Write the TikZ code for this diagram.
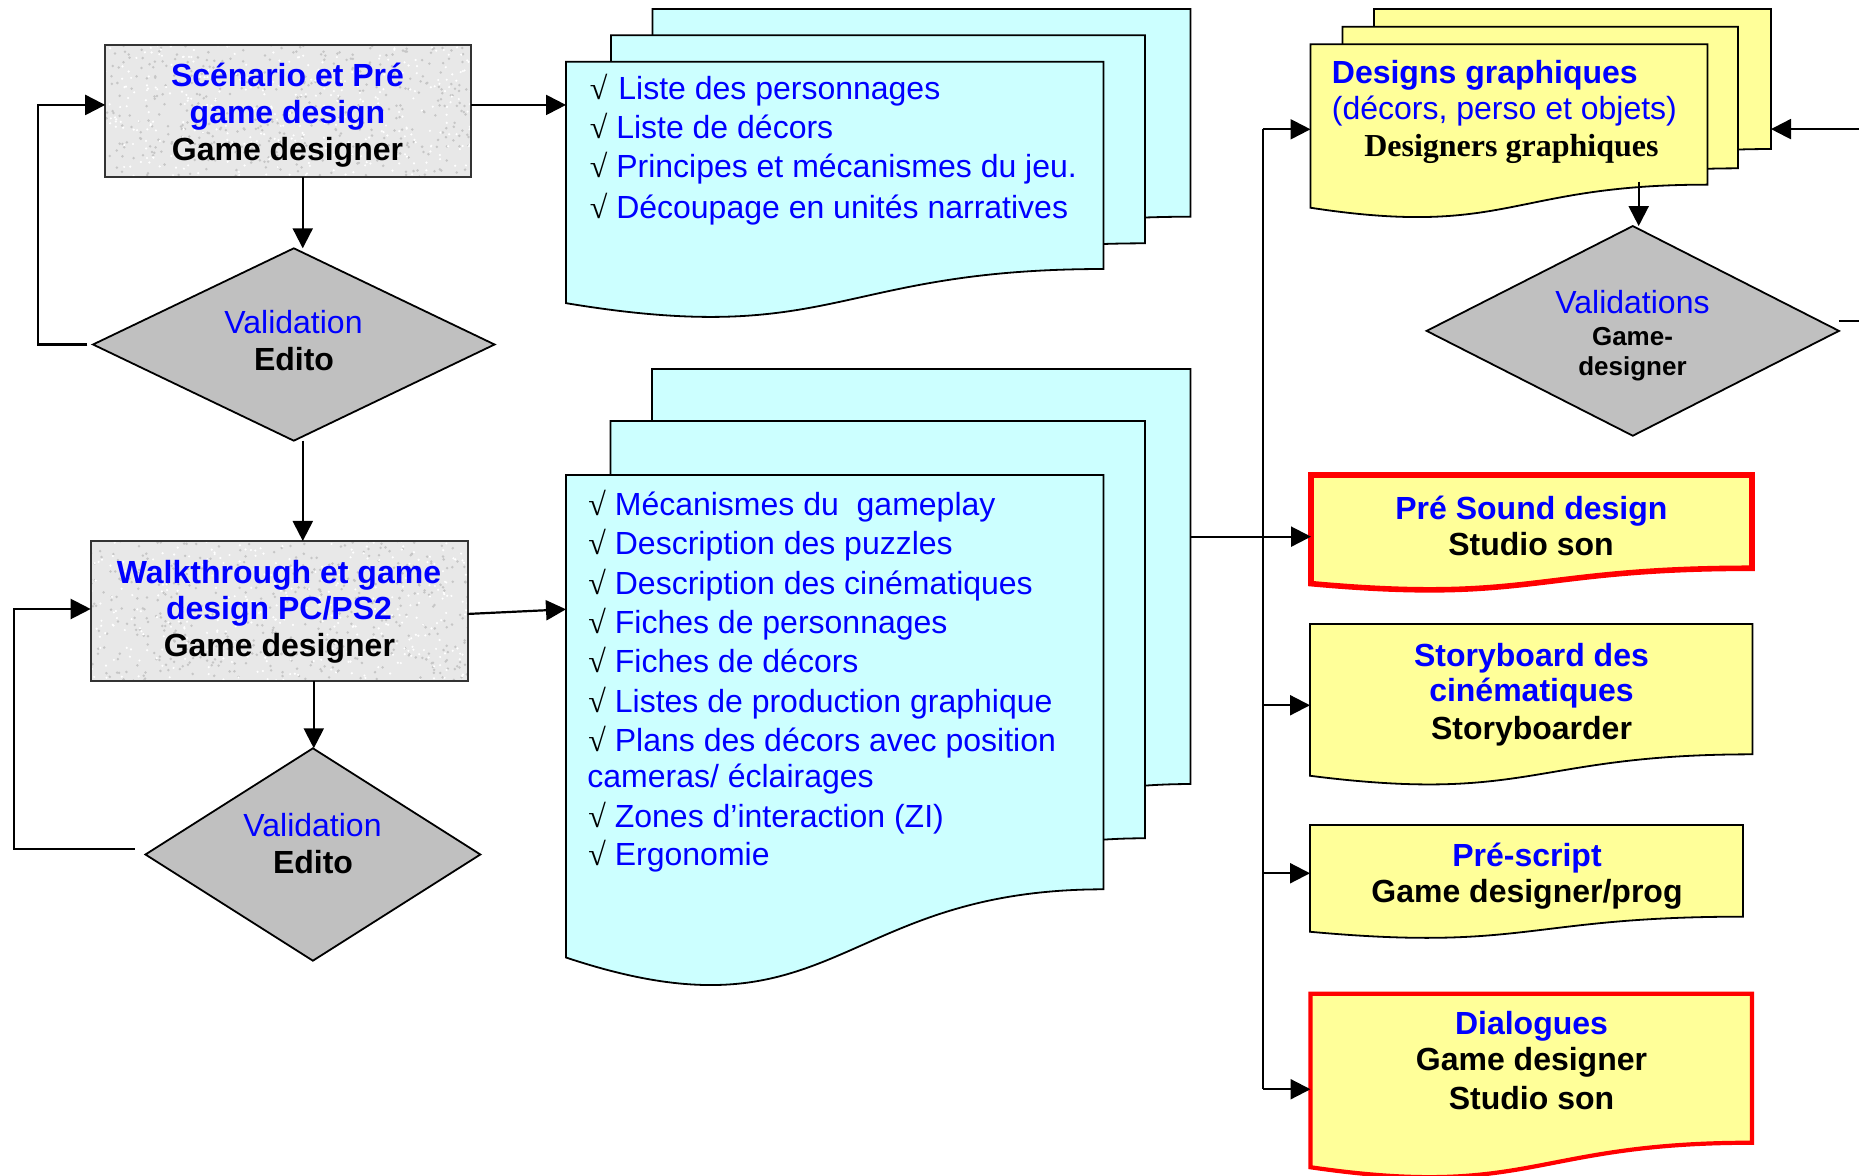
\documentclass[tikz,border=0pt]{standalone}
\usepackage{fontspec}
\setmainfont{Liberation Sans}
\newfontfamily\tms{Liberation Serif}
\usetikzlibrary{shapes.geometric,arrows.meta,calc}
\definecolor{docblue}{HTML}{CCFFFF}
\definecolor{docyel}{HTML}{FFFF99}
\definecolor{diagray}{HTML}{C0C0C0}
\definecolor{txtblue}{HTML}{0000FF}
\definecolor{boxgray}{HTML}{E8E8E8}
\definecolor{speckdark}{HTML}{C6C6C6}
\newcommand\fs{\fontsize{16}{19}\selectfont}
\newcommand\fss{\fontsize{13}{15}\selectfont}
\newcommand\sq{{\tms\color{black}√}}
\newcommand\docpage[6]{%
  \node[pagebox, minimum width=#4*0.5pt, minimum height=#5*0.5pt] (#1) at (#2,#3) {};
  \path[#6] (#1.north west) -- (#1.north east)
    -- ($(#1.north east)!0.802!(#1.south east)$)
    .. controls ($(#1.north)!0.802!(#1.south)$) and ($(#1.north)!1.1075!(#1.south)$)
    .. ($(#1.north west)!0.934!(#1.south west)$) -- cycle;}
\newcommand\speckle[4]{%
  \begin{scope}
    \clip (#1.north west) rectangle (#1.south east);
    \pgfmathsetseed{#2}
    \foreach \k in {1,...,450}{\fill[speckdark] ($(#1.center)+(#3*rand,#4*rand)$) circle[radius=0.7pt];}
    \foreach \k in {1,...,350}{\fill[white] ($(#1.center)+(#3*rand,#4*rand)$) circle[radius=0.6pt];}
  \end{scope}}
\tikzset{
  pagebox/.style={inner sep=0pt, outer sep=0pt, anchor=north west},
  cyandoc/.style={fill=docblue, draw=black, line width=0.9pt},
  yeldoc/.style={fill=docyel, draw=black, line width=0.9pt},
  reddoc/.style={fill=docyel, draw=red, line width=2.8pt},
  gbox/.style={inner sep=0pt, outer sep=0pt, anchor=north west, fill=boxgray},
  dia/.style={diamond, inner sep=0pt, outer sep=0pt, fill=diagray, draw=black, line width=0.9pt},
  arr/.style={draw=black, line width=1.1pt, -{Triangle[length=10pt,width=10pt]}},
  link/.style={draw=black, line width=1.1pt},
  ttl/.style={anchor=base, inner sep=0pt, font=\fs\bfseries, text=txtblue},
  who/.style={anchor=base, inner sep=0pt, font=\fs\bfseries, text=black},
  val/.style={anchor=base, inner sep=0pt, font=\fs, text=txtblue},
  item/.style={anchor=base west, inner sep=0pt, font=\fs, text=txtblue},
}
\begin{document}
\begin{tikzpicture}[x=0.5pt, y=-0.5pt]
\useasboundingbox (0,0) rectangle (1859,1176);
\clip (0,0) rectangle (1859,1176);
\fill[white] (0,0) rectangle (1859,1176);

% document stacks
\docpage{doc1c}{652.5}{9}{538}{259}{cyandoc}
\docpage{doc1b}{611}{35.2}{534}{259.5}{cyandoc}
\docpage{doc1a}{566}{61.7}{537.5}{258.5}{cyandoc}
\docpage{doc2c}{652}{369}{538.4}{517.5}{cyandoc}
\docpage{doc2b}{610.5}{421}{534.5}{520.3}{cyandoc}
\docpage{doc2a}{566}{475}{537.5}{516.6}{cyandoc}
\docpage{dg3}{1374}{9}{397}{174.6}{yeldoc}
\docpage{dg2}{1342.5}{26.7}{395.5}{176.6}{yeldoc}
\docpage{dg1}{1310.5}{44.3}{397}{175}{yeldoc}
\docpage{snd}{1311}{475}{441}{116.3}{reddoc}
\docpage{sb}{1310}{624}{442.5}{162.5}{yeldoc}
\docpage{ps}{1310}{825}{433}{114.3}{yeldoc}
\docpage{dl}{1310.5}{993.8}{441.5}{185.7}{reddoc, line width=2.1pt}

% textured boxes
\node[gbox, minimum width=182.75pt, minimum height=66.15pt] (b1) at (105.2,45) {};
\speckle{b1}{11}{183}{67}
\draw[draw=black!80, line width=0.9pt] (b1.north west) rectangle (b1.south east);
\node[gbox, minimum width=188.5pt, minimum height=69.85pt] (b2) at (90.7,541) {};
\speckle{b2}{23}{189}{70}
\draw[draw=black!80, line width=0.9pt] (b2.north west) rectangle (b2.south east);

% decisions
\node[dia, minimum width=200.75pt, minimum height=96.2pt] (d1) at (293.8,344.5) {};
\node[dia, minimum width=167.45pt, minimum height=106.2pt] (d2) at (312.9,854.5) {};
\node[dia, minimum width=206.15pt, minimum height=104.85pt] (d3) at (1632.8,330.9) {};

% connectors, left column
\coordinate (a1) at ($(b1.south)+(14.8,0)$);
\draw[arr] (a1) -- (a1 |- d1.north);
\coordinate (a2) at ($(d1.south)+(9,0)$);
\draw[arr] (a2) -- (a2 |- b2.north);
\coordinate (a3) at ($(b2.south)+(34.6,0)$);
\draw[arr] (a3) -- (a3 |- d2.north);
\draw[arr] ($(d1.west)+(-5.7,0)$) -- ++(-49,0) |- ($(b1.west)+(0,-6.2)$);
\draw[arr] ($(d2.west)+(-10.7,-5.5)$) -- ++(-120.5,0) |- ($(b2.west)+(0,-1.85)$);
\coordinate (b1out) at ($(b1.east)+(0,-6.2)$);
\draw[arr] (b1out) -- (b1out -| doc1a.west);
\coordinate (b2out) at ($(b2.east)+(0,3.1)$);
\coordinate (doc2in) at ($(doc2a.north west)+(0,134.3)$);
\draw[arr] (b2out) -- (doc2in);

% connectors, right column
\coordinate (dgin) at ($(dg1.west)+(0,-2.5)$);
\coordinate (sndin) at ($(snd.west)+(0,3.5)$);
\coordinate (sbin) at (sb.west);
\coordinate (psin) at ($(ps.west)+(0,-8.9)$);
\coordinate (dlin) at ($(dl.west)+(0,2.6)$);
\coordinate (bus) at ($(dgin)+(-47.8,0)$);
\draw[link] (bus) -- (bus |- dlin);
\draw[arr] (bus) -- (dgin);
\draw[arr] (sndin -| doc2c.east) -- (sndin);
\draw[arr] (bus |- sbin) -- (sbin);
\draw[arr] (bus |- psin) -- (psin);
\draw[arr] (bus |- dlin) -- (dlin);
\coordinate (dgout) at ($(dg1.north east)+(-68.8,137.4)$);
\draw[arr] (dgout) -- (dgout |- d3.north);
\coordinate (dg3in) at ($(dg3.east)+(0,32.8)$);
\draw[arr] ($(d3.east)+(0,-10.2)$) -- ++(40,0) |- (dg3in);

% texts
\node[ttl] (t1a) at (287.5,87) {Scénario et Pré};
\node[ttl] (t1b) at (287.5,123.7) {game design};
\node[who] (t1c) at (287.5,160.3) {Game designer};
\node[val] (t2a) at (293.5,333.7) {Validation};
\node[who] (t2b) at (294,370.3) {Edito};
\node[ttl] (t3a) at (279,583.2) {Walkthrough et game};
\node[ttl] (t3b) at (279,619.8) {design PC/PS2};
\node[who] (t3c) at (279.4,656.5) {Game designer};
\node[val] (t4a) at (312.5,836) {Validation};
\node[who] (t4b) at (313,873) {Edito};

\node[item] (l1a) at (589.4,99.7) {\sq\hspace{5.5pt}Liste des personnages};
\node[item] (l1b) at (589.4,138.9) {\sq\ Liste de décors};
\node[item] (l1c) at (589.4,178) {\sq\ Principes et mécanismes du jeu.};
\node[item] (l1d) at (589.4,218.3) {\sq\ Découpage en unités narratives};

\node[item] (l2a) at (588,515.9) {\sq\ Mécanismes du\ \ gameplay};
\node[item] (l2b) at (588,555) {\sq\ Description des puzzles};
\node[item] (l2c) at (588,594.1) {\sq\ Description des cinématiques};
\node[item] (l2d) at (588,633.3) {\sq\ Fiches de personnages};
\node[item] (l2e) at (588,672.4) {\sq\ Fiches de décors};
\node[item] (l2f) at (588,712.7) {\sq\ Listes de production graphique};
\node[item] (l2g) at (588,751.8) {\sq\ Plans des décors avec position};
\node[item] (l2h) at (587,787.4) {cameras/ éclairages};
\node[item] (l2i) at (588,827.7) {\sq\ Zones d’interaction (ZI)};
\node[item] (l2j) at (588,865.6) {\sq\ Ergonomie};

\node[ttl, anchor=base west] (t5a) at (1331.5,83.2) {Designs graphiques};
\node[val, anchor=base west] (t5b) at (1331.5,119.8) {(décors, perso et objets)};
\node[who, font=\tms\fs\bfseries] (t5c) at (1511.4,156.5) {Designers graphiques};
\node[val] (t6a) at (1632.5,314) {Validations};
\node[who, font=\fss\bfseries] (t6b) at (1632.5,345.3) {Game-};
\node[who, font=\fss\bfseries] (t6c) at (1632.5,375.2) {designer};
\node[ttl] (t7a) at (1531.4,519.5) {Pré Sound design};
\node[who] (t7b) at (1531,555.1) {Studio son};
\node[ttl] (t8a) at (1531.5,666) {Storyboard des};
\node[ttl] (t8b) at (1531.5,701.3) {cinématiques};
\node[who] (t8c) at (1531.5,739) {Storyboarder};
\node[ttl] (t9a) at (1527,866) {Pré-script};
\node[who] (t9b) at (1527,902.7) {Game designer/prog};
\node[ttl] (t10a) at (1531.5,1034.3) {Dialogues};
\node[who] (t10b) at (1531.5,1070.3) {Game designer};
\node[who] (t10c) at (1531.5,1109.3) {Studio son};
\end{tikzpicture}
\end{document}
